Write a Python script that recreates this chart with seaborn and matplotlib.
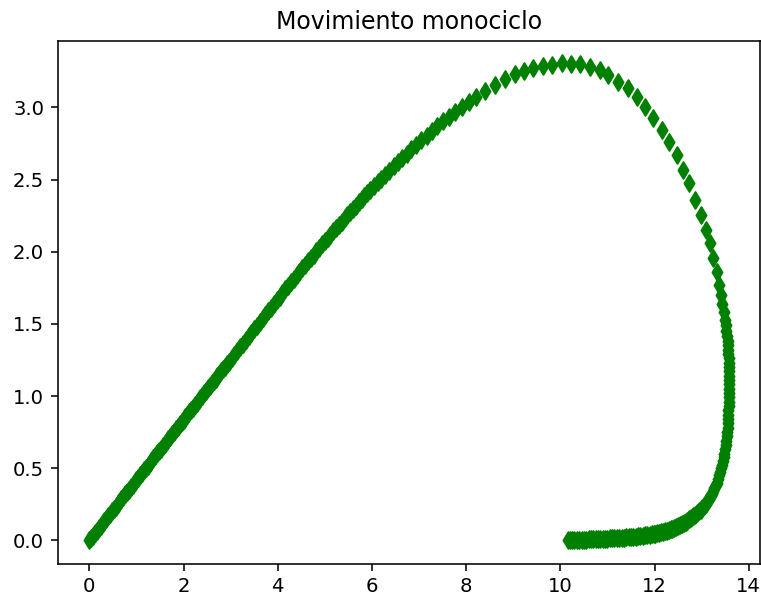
import matplotlib
matplotlib.use("Agg")
import matplotlib.pyplot as plt
import seaborn as sns
import pandas as pd

# Trajectory of the unicycle (x, y)
x_line = [0.00, 0.04, 0.08, 0.12, 0.16, 0.20, 0.24, 0.28, 0.32, 0.36, 0.40, 0.44,
          0.48, 0.52, 0.56, 0.60, 0.64, 0.68, 0.72, 0.76, 0.80, 0.84, 0.88, 0.92,
          0.96, 1.00, 1.04, 1.08, 1.12, 1.16, 1.20, 1.24, 1.28, 1.32, 1.36, 1.40,
          1.44, 1.48, 1.52, 1.56, 1.60, 1.64, 1.68, 1.72, 1.76, 1.80, 1.84, 1.88,
          1.92, 1.96, 2.00, 2.04, 2.08, 2.12, 2.16, 2.20, 2.24, 2.28, 2.32, 2.36,
          2.40, 2.44, 2.48, 2.52, 2.56, 2.60, 2.64, 2.68, 2.72, 2.76, 2.80, 2.84,
          2.88, 2.92, 2.96,
          3.02, 3.08, 3.14, 3.20, 3.26, 3.32, 3.38, 3.44, 3.50, 3.56, 3.62, 3.68,
          3.74, 3.80, 3.86, 3.92, 3.98, 4.04, 4.10, 4.16, 4.22, 4.28, 4.34, 4.40,
          4.46, 4.52, 4.58, 4.64, 4.70, 4.76, 4.82, 4.88, 4.94, 5.00, 5.06, 5.12,
          5.18, 5.24, 5.30, 5.36, 5.42, 5.48, 5.54, 5.60, 5.66, 5.72, 5.78, 5.84,
          5.90, 5.96]
y_line = [0.000, 0.017, 0.033, 0.050, 0.067, 0.084, 0.100, 0.117, 0.134, 0.150, 0.167, 0.184,
          0.201, 0.217, 0.234, 0.251, 0.268, 0.284, 0.301, 0.318, 0.334, 0.351, 0.368, 0.385,
          0.401, 0.418, 0.435, 0.451, 0.468, 0.485, 0.502, 0.518, 0.535, 0.552, 0.568, 0.585,
          0.602, 0.619, 0.635, 0.652, 0.669, 0.686, 0.702, 0.719, 0.736, 0.752, 0.769, 0.786,
          0.803, 0.819, 0.836, 0.853, 0.869, 0.886, 0.903, 0.920, 0.936, 0.953, 0.970, 0.986,
          1.003, 1.020, 1.037, 1.053, 1.070, 1.087, 1.104, 1.120, 1.137, 1.154, 1.170, 1.187,
          1.204, 1.221, 1.237,
          1.262, 1.287, 1.313, 1.338, 1.363, 1.388, 1.413, 1.438, 1.463, 1.488, 1.513, 1.538,
          1.563, 1.588, 1.613, 1.639, 1.664, 1.689, 1.714, 1.739, 1.763, 1.788, 1.812, 1.837,
          1.861, 1.885, 1.909, 1.933, 1.956, 1.980, 2.003, 2.027, 2.050, 2.073, 2.096, 2.119,
          2.142, 2.164, 2.187, 2.209, 2.231, 2.253, 2.275, 2.297, 2.319, 2.341, 2.362, 2.384,
          2.405, 2.426]

x_arc = [6.04, 6.12, 6.20, 6.28, 6.37, 6.46, 6.55, 6.64, 6.74, 6.84, 6.94, 7.05,
         7.16, 7.27, 7.39, 7.51, 7.63, 7.77, 7.91, 8.06, 8.22, 8.41, 8.62, 8.83,
         9.03, 9.23, 9.43, 9.63, 9.83,
         10.03, 10.23, 10.42, 10.63, 10.84, 11.01, 11.23, 11.44, 11.63, 11.80, 11.97,
         12.16, 12.31, 12.48, 12.61, 12.73, 12.86, 12.99, 13.09, 13.18, 13.24, 13.33, 13.37]
y_arc = [2.453, 2.480, 2.506, 2.532, 2.562, 2.592, 2.621, 2.648, 2.679, 2.710, 2.741, 2.774,
         2.805, 2.836, 2.869, 2.903, 2.933, 2.968, 3.003, 3.038, 3.073, 3.115, 3.157, 3.194,
         3.228, 3.250, 3.272, 3.287, 3.297,
         3.306, 3.304, 3.301, 3.280, 3.259, 3.224, 3.176, 3.134, 3.072, 3.003, 2.927,
         2.844, 2.761, 2.671, 2.567, 2.477, 2.359, 2.255, 2.151, 2.060, 1.956, 1.859, 1.769]

x_end = [13.41, 13.44, 13.47, 13.49, 13.51, 13.525, 13.54, 13.55, 13.56, 13.565, 13.57,
         13.575, 13.58, 13.58, 13.585, 13.585, 13.585, 13.585, 13.585, 13.585, 13.58,
         13.58, 13.575, 13.57, 13.565, 13.56, 13.555, 13.55, 13.54, 13.53, 13.52, 13.51,
         13.495, 13.48, 13.465, 13.45, 13.43, 13.41, 13.39, 13.37, 13.345, 13.32, 13.295,
         13.27, 13.24, 13.21, 13.18, 13.15, 13.12, 13.085, 13.05, 13.015, 12.98, 12.94,
         12.90, 12.86, 12.82, 12.78, 12.74, 12.70, 12.66, 12.62, 12.58, 12.54, 12.50,
         12.46, 12.42, 12.38, 12.34, 12.30, 12.26, 12.22, 12.18, 12.14, 12.10, 12.06,
         12.02, 11.98, 11.94, 11.90, 11.85, 11.80, 11.75, 11.70, 11.65, 11.60, 11.55,
         11.50, 11.45, 11.40, 11.35, 11.30, 11.25, 11.20, 11.15, 11.10, 11.05, 11.00,
         10.95, 10.90, 10.85, 10.80, 10.75, 10.70, 10.65, 10.60, 10.55, 10.50, 10.45,
         10.40, 10.35, 10.30, 10.25, 10.20, 10.16]
y_end = [1.70, 1.64, 1.58, 1.53, 1.49, 1.45, 1.415, 1.38, 1.35, 1.32, 1.29,
         1.26, 1.23, 1.20, 1.17, 1.14, 1.11, 1.08, 1.05, 1.02, 0.99,
         0.96, 0.93, 0.90, 0.87, 0.84, 0.81, 0.78, 0.75, 0.72, 0.69, 0.66,
         0.63, 0.60, 0.575, 0.55, 0.525, 0.50, 0.475, 0.45, 0.425, 0.40, 0.38,
         0.36, 0.34, 0.32, 0.30, 0.285, 0.27, 0.255, 0.24, 0.225, 0.212, 0.20,
         0.188, 0.177, 0.166, 0.156, 0.146, 0.137, 0.128, 0.120, 0.112, 0.105, 0.098,
         0.092, 0.086, 0.080, 0.075, 0.070, 0.066, 0.062, 0.058, 0.055, 0.052, 0.049,
         0.046, 0.043, 0.041, 0.039, 0.036, 0.034, 0.032, 0.030, 0.028, 0.026, 0.024,
         0.022, 0.021, 0.020, 0.019, 0.018, 0.017, 0.016, 0.015, 0.014, 0.013, 0.012,
         0.011, 0.010, 0.009, 0.008, 0.008, 0.007, 0.006, 0.006, 0.005, 0.005, 0.004,
         0.004, 0.003, 0.003, 0.002, 0.002, 0.001]

x_ticks = [0, 2, 4, 6, 8, 10, 12, 14]
y_ticks = [0.0, 0.5, 1.0, 1.5, 2.0, 2.5, 3.0]
title = "Movimiento monociclo"

S = 1.416  # scale from a default 100-dpi figure

plt.rcParams.update({
    "font.family": ["DejaVu Sans"],
    "font.size": 10 * S,
    "axes.linewidth": 0.8 * S,
    "xtick.major.size": 3.5 * S,
    "ytick.major.size": 3.5 * S,
    "xtick.major.width": 0.8 * S,
    "ytick.major.width": 0.8 * S,
    "xtick.major.pad": 3.5 * S,
    "ytick.major.pad": 3.5 * S,
    "xtick.labelsize": 10 * S,
    "ytick.labelsize": 10 * S,
})

df = pd.DataFrame({"x": x_line + x_arc + x_end, "y": y_line + y_arc + y_end})

fig = plt.figure(figsize=(7.61, 6.0), dpi=100)
ax = fig.add_axes([58 / 761, 36.3 / 600, 702.5 / 761, 523 / 600])
sns.scatterplot(data=df, x="x", y="y", ax=ax, marker="d", s=(6 * S) ** 2,
                color="green", edgecolor="green", linewidth=1.0 * S, legend=False)
ax.set_xlabel("")
ax.set_ylabel("")
ax.set_xticks(x_ticks)
ax.set_yticks(y_ticks)
ax.set_yticklabels([f"{v:.1f}" for v in y_ticks])
ax.set_xlim(-0.665, 14.25)
ax.set_ylim(-0.162, 3.462)
ax.set_title(title, fontsize=12 * S, pad=6 * S)
fig.savefig("out.png", dpi=100)
